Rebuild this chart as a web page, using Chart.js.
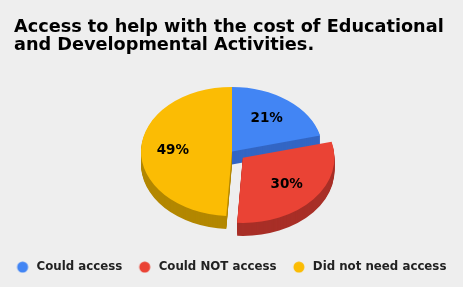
<!DOCTYPE html>
<html>
<head>
<meta charset="utf-8">
<script src="https://cdn.jsdelivr.net/npm/chart.js@4"></script>
<style>
  html, body { margin: 0; padding: 0; background: #eeeeee; }
  #wrap { width: 463px; height: 287px; position: relative; }
  #title {
    position: absolute; left: 14px; top: 16.5px; margin: 0;
    font-family: "DejaVu Sans"; font-weight: bold; font-size: 17.7px; line-height: 18.3px;
    color: #000000; white-space: nowrap;
  }
</style>
</head>
<body>
<div id="wrap">
  <canvas id="pieChart"></canvas>
  <div id="title"></div>
</div>
<script>
const titleLines = ['Access to help with the cost of Educational', 'and Developmental Activities.'];
const categories = ['Could access', 'Could NOT access', 'Did not need access'];
const shares = [21, 30, 49];
const topColors = ['#4285f4', '#ea4335', '#fbbc04'];
const sideColors = ['#3366c4', '#a82f27', '#b38700'];
const explode = [0, 56, 0];

document.getElementById('title').innerHTML = titleLines.join('<br>');

// fake 3d look: squash the pie and stack darker copies underneath
const depth = 13, squash = 0.71, centerX = 232, centerY = 151.5;

// legend marker: circle sits right of a blank strip so items get wider gaps
function makeDot(color) {
    const c = document.createElement('canvas');
    c.width = 26; c.height = 12;
    const g = c.getContext('2d');
    g.fillStyle = color;
    g.beginPath();
    g.arc(18, 6, 5.5, 0, Math.PI * 2);
    g.fill();
    return c;
}

function setView(ctx, arc, dy) {
    ctx.translate(centerX, centerY + dy);
    ctx.scale(1, squash);
    ctx.translate(-arc.x, -arc.y);
}

const pie3d = {
    id: 'pie3d',
    beforeDatasetsDraw(chart) {
        const ctx = chart.ctx;
        const arcs = chart.getDatasetMeta(0).data;
        for (let d = depth; d > 0; d--) {
            ctx.save();
            setView(ctx, arcs[0], d);
            arcs.forEach((arc, i) => {
                const side = Object.create(arc, {
                    options: { value: Object.assign({}, arc.options, { backgroundColor: sideColors[i] }) }
                });
                arc.draw.call(side, ctx);
            });
            ctx.restore();
        }
        ctx.save();
        setView(ctx, arcs[0], 0);
    },
    afterDatasetsDraw(chart) {
        const ctx = chart.ctx;
        ctx.restore();
        const arcs = chart.getDatasetMeta(0).data;
        const total = shares.reduce((a, b) => a + b, 0);
        ctx.save();
        ctx.font = 'bold 13.5px "DejaVu Sans"';
        ctx.fillStyle = '#000000';
        ctx.textAlign = 'center';
        ctx.textBaseline = 'middle';
        arcs.forEach((arc, i) => {
            const mid = (arc.startAngle + arc.endAngle) / 2;
            const r = arc.outerRadius * 0.64 + (arc.options.offset || 0) / 4;
            const px = Math.cos(mid) * r;
            const py = Math.sin(mid) * r;
            ctx.fillText(Math.round(shares[i] / total * 100) + '%', centerX + px - 1, centerY + py * squash);
        });
        ctx.restore();
    }
};

new Chart(document.getElementById('pieChart'), {
    type: 'pie',
    data: {
        labels: categories,
        datasets: [{
            data: shares,
            backgroundColor: topColors,
            borderWidth: 0,
            offset: explode,
            clip: false
        }]
    },
    options: {
        responsive: true,
        maintainAspectRatio: false,
        animation: false,
        radius: 91,
        layout: { padding: { left: -6, right: 6, top: 60, bottom: 4 } },
        plugins: {
            tooltip: { enabled: false },
            title: { display: false },
            legend: {
                position: 'bottom',
                labels: {
                    usePointStyle: true,
                    pointStyleWidth: 26,
                    padding: 4.5,
                    color: '#222222',
                    font: { family: '"DejaVu Sans"', size: 11.8, weight: 'bold' },
                    generateLabels(chart) {
                        const items = Chart.overrides.doughnut.plugins.legend.labels.generateLabels(chart);
                        items.forEach((it, i) => { it.pointStyle = makeDot(topColors[i]); });
                        return items;
                    }
                }
            }
        }
    },
    plugins: [pie3d]
});
</script>
</body>
</html>
